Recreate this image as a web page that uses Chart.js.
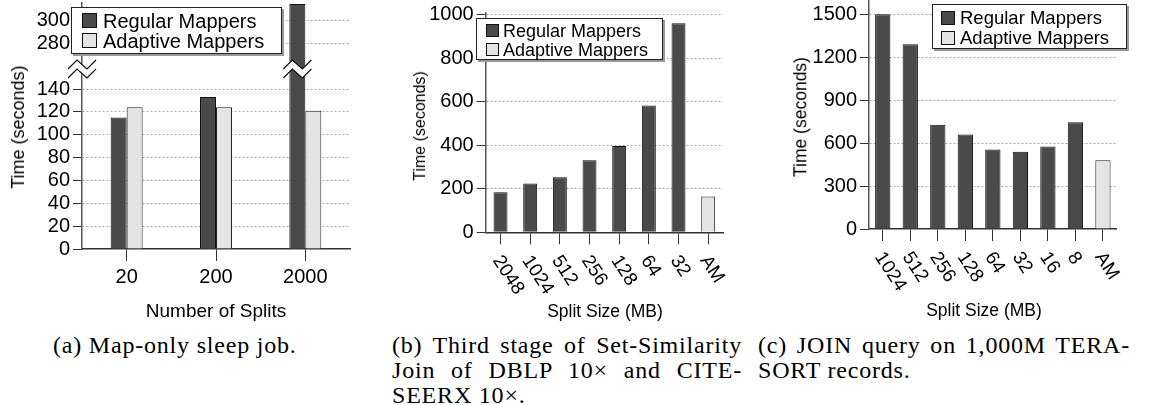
<!DOCTYPE html>
<html>
<head>
<meta charset="utf-8">
<script src="https://cdn.jsdelivr.net/npm/chart.js@4/dist/chart.umd.min.js"></script>
<style>
  body { margin: 0; background: #fff; }
  #page { position: relative; width: 1154px; height: 405px; overflow: hidden; font-family: 'Liberation Sans', Arial, sans-serif; color: #000; }
  canvas, .ytitle, .xtitle, .legend, .cap { position: absolute; }
  .ytitle { transform: translate(-50%, -50%) rotate(-90deg); white-space: nowrap; line-height: 1; }
  .xtitle { transform: translate(-50%, -50%); white-space: nowrap; line-height: 1; }
  .legend { box-sizing: border-box; border: 1px solid #222; background: #fff; box-shadow: 2px 2px 0 #999; }
  .legend .sw { position: absolute; box-sizing: border-box; border: 1px solid #111; }
  .legend .lab { position: absolute; white-space: nowrap; line-height: 1; transform: translateY(-50%); }
  .cap { font-family: 'Liberation Serif', serif; font-size: 24px; line-height: 25px; letter-spacing: 0.8px; white-space: nowrap; }
  .cap .j { text-align: justify; text-align-last: justify; }
</style>
</head>
<body>
<div id="page">
  <canvas id="aLow" width="360" height="300" style="left:0;top:0"></canvas>
  <canvas id="aHigh" width="360" height="80" style="left:0;top:0"></canvas>
  <canvas id="chartB" width="390" height="300" style="left:390px;top:0"></canvas>
  <canvas id="chartC" width="384" height="300" style="left:770px;top:0"></canvas>

  <div class="ytitle" style="left:18px;top:127px;font-size:18px">Time (seconds)</div>
  <div class="ytitle" style="left:420px;top:126px;font-size:16px">Time (seconds)</div>
  <div class="ytitle" style="left:801px;top:117px;font-size:17.5px">Time (seconds)</div>
  <div class="xtitle" style="left:216px;top:310px;font-size:19px">Number of Splits</div>
  <div class="xtitle" style="left:605px;top:312px;font-size:17.5px">Split Size (MB)</div>
  <div class="xtitle" style="left:984px;top:311px;font-size:17.5px">Split Size (MB)</div>

  <div class="cap" style="left:53px;top:333px">(a) Map-only sleep job.</div>
  <div class="cap" style="left:392px;top:333px;width:350px">
    <div class="j">(b) Third stage of Set-Similarity</div>
    <div class="j">Join of DBLP 10× and CITE-</div>
    <div>SEERX 10×.</div>
  </div>
  <div class="cap" style="left:758px;top:333px;width:372px">
    <div class="j">(c) JOIN query on 1,000M TERA-</div>
    <div>SORT records.</div>
  </div>
</div>

<script>
const seriesNames = ['Regular Mappers', 'Adaptive Mappers'];
const darkFill = '#4a4a4a';
const lightFill = '#e4e4e4';

// (a) map-only sleep job, y axis broken between 160 and 260
const splitsA = ['20', '200', '2000'];
const regularA = [115, 133, 314];
const adaptiveA = [124, 124, 121];
const yTicksLowA = [0, 20, 40, 60, 80, 100, 120, 140];
const yTicksHighA = [280, 300];

// (b) set-similarity join, third stage
const sizesB = ['2048', '1024', '512', '256', '128', '64', '32', 'AM'];
const regularB = [184, 224, 253, 331, 397, 583, 960, null];
const adaptiveB = [null, null, null, null, null, null, null, 165];
const yTicksB = [0, 200, 400, 600, 800, 1000];

// (c) join query on terasort records
const sizesC = ['1024', '512', '256', '128', '64', '32', '16', '8', 'AM'];
const regularC = [1505, 1294, 731, 663, 558, 542, 579, 748, null];
const adaptiveC = [null, null, null, null, null, null, null, null, 481];
const yTicksC = [0, 300, 600, 900, 1200, 1500];

Chart.defaults.font.family = "'Liberation Sans', Arial, sans-serif";
Chart.defaults.color = '#000';

// x labels slanted downwards to the right
const slantLabels = {
  id: 'slantLabels',
  afterDraw(chart, args, opts) {
    const xs = chart.scales.x;
    const ctx = chart.ctx;
    ctx.save();
    ctx.font = opts.size + "px 'Liberation Sans', Arial, sans-serif";
    ctx.fillStyle = '#000';
    ctx.textAlign = 'left';
    ctx.textBaseline = 'middle';
    chart.data.labels.forEach((lab, i) => {
      ctx.save();
      ctx.translate(xs.getPixelForTick(i) + opts.dx, xs.top + opts.dy);
      ctx.rotate(opts.angle * Math.PI / 180);
      ctx.fillText(lab, 0, 0);
      ctx.restore();
    });
    ctx.restore();
  }
};

// zigzag break marks on the axis and on the tall bar
function drawBreak(ctx, cx, cy) {
  const xs = [-14, -5, 5, 14];
  const ys = [0, -9, 0, -9];
  const gap = 9;
  ctx.save();
  ctx.beginPath();
  xs.forEach((x, i) => i ? ctx.lineTo(cx + x, cy + ys[i]) : ctx.moveTo(cx + x, cy + ys[i]));
  for (let i = xs.length - 1; i >= 0; i--) ctx.lineTo(cx + xs[i], cy + ys[i] + gap);
  ctx.closePath();
  ctx.fillStyle = '#fff';
  ctx.fill();
  ctx.strokeStyle = '#111';
  ctx.lineWidth = 1.2;
  [0, gap].forEach(off => {
    ctx.beginPath();
    xs.forEach((x, i) => i ? ctx.lineTo(cx + x, cy + ys[i] + off) : ctx.moveTo(cx + x, cy + ys[i] + off));
    ctx.stroke();
  });
  ctx.restore();
}

const axisBreak = {
  id: 'axisBreak',
  afterDraw(chart) {
    const area = chart.chartArea;
    const tall = chart.getDatasetMeta(0).data[2];
    drawBreak(chart.ctx, area.left, area.bottom);
    drawBreak(chart.ctx, tall.x, area.bottom);
  }
};

function barChart(id, cfg) {
  const xScale = cfg.hideX ? { display: false } : {
    afterFit: s => { s.height = cfg.xHeight; s.paddingLeft = 0; s.paddingRight = 0; },
    ticks: { display: !cfg.slant, font: { size: 20 }, padding: 4, maxRotation: 0, autoSkip: false },
    grid: { offset: false, drawOnChartArea: false, drawTicks: true, tickLength: 12, tickColor: '#333', color: '#333' },
    border: { color: '#333', width: 1.5 }
  };
  return new Chart(document.getElementById(id), {
    type: 'bar',
    data: {
      labels: cfg.labels,
      datasets: [
        { label: seriesNames[0], data: cfg.regular, backgroundColor: darkFill, borderColor: '#111', borderWidth: 1, clip: 0 },
        { label: seriesNames[1], data: cfg.adaptive, backgroundColor: lightFill, borderColor: '#222', borderWidth: 1, clip: 0 }
      ]
    },
    options: {
      responsive: false,
      animation: false,
      layout: { padding: cfg.pad },
      datasets: { bar: { categoryPercentage: cfg.cat, barPercentage: 1, grouped: cfg.grouped } },
      plugins: {
        legend: { display: false },
        tooltip: { enabled: false },
        slantLabels: cfg.slant || {}
      },
      scales: {
        x: xScale,
        y: {
          min: cfg.min,
          max: cfg.max,
          afterBuildTicks: s => { s.ticks = cfg.yTicks.map(v => ({ value: v })); },
          afterFit: s => { s.width = cfg.yWidth; s.paddingTop = 0; s.paddingBottom = 0; },
          ticks: { font: { size: 20 }, padding: 3, autoSkip: false, callback: v => String(v) },
          grid: {
            color: c => (c.tick && c.tick.value === 0) ? 'rgba(0,0,0,0)' : '#a8a8a8',
            tickColor: '#333',
            tickLength: 9,
            lineWidth: 1
          },
          border: { color: '#555', width: 1.5, dash: [2, 2] }
        }
      }
    },
    plugins: cfg.plugins || []
  });
}

barChart('aLow', {
  labels: splitsA, regular: regularA, adaptive: adaptiveA, yTicks: yTicksLowA,
  min: 0, max: 157.5, cat: 0.358, grouped: true,
  pad: { left: 0, right: 10, top: 69, bottom: 0 }, yWidth: 82, xHeight: 51
});

barChart('aHigh', {
  labels: splitsA, regular: regularA, adaptive: adaptiveA, yTicks: yTicksHighA,
  min: 257.4, max: 314.8, cat: 0.358, grouped: true, hideX: true,
  pad: { left: 0, right: 10, top: 3, bottom: 11 }, yWidth: 82,
  plugins: [axisBreak]
});

barChart('chartB', {
  labels: sizesB, regular: regularB, adaptive: adaptiveB, yTicks: yTicksB,
  min: 0, max: 1008, cat: 0.47, grouped: false,
  pad: { left: 0, right: 57, top: 12.9, bottom: 0 }, yWidth: 95.7, xHeight: 67.7,
  slant: { size: 19, angle: 57, dx: -4, dy: 25 }, plugins: [slantLabels]
});

barChart('chartC', {
  labels: sizesC, regular: regularC, adaptive: adaptiveC, yTicks: yTicksC,
  min: 0, max: 1605, cat: 0.555, grouped: false,
  pad: { left: 0, right: 37.3, top: 0, bottom: 0 }, yWidth: 99, xHeight: 71,
  slant: { size: 19, angle: 57, dx: -4, dy: 25 }, plugins: [slantLabels]
});

// legends drawn as boxes over the plots
const page = document.getElementById('page');
function legend(box) {
  const el = document.createElement('div');
  el.className = 'legend';
  Object.assign(el.style, { left: box.x + 'px', top: box.y + 'px', width: box.w + 'px', height: box.h + 'px', fontSize: box.font + 'px' });
  seriesNames.forEach((name, i) => {
    const sw = document.createElement('div');
    sw.className = 'sw';
    Object.assign(sw.style, { left: box.sx + 'px', top: (box.rows[i] - box.s / 2) + 'px', width: box.s + 'px', height: box.s + 'px', background: i ? lightFill : darkFill });
    const lab = document.createElement('div');
    lab.className = 'lab';
    lab.textContent = name;
    Object.assign(lab.style, { left: box.tx + 'px', top: box.rows[i] + 'px' });
    el.append(sw, lab);
  });
  page.appendChild(el);
}
legend({ x: 71, y: 7, w: 211, h: 47, font: 20, s: 15, sx: 10, tx: 31, rows: [12.5, 32.5] });
legend({ x: 476, y: 18, w: 187, h: 42, font: 18, s: 13, sx: 9, tx: 26, rows: [11.5, 30.5] });
legend({ x: 932, y: 4, w: 195, h: 45, font: 18.5, s: 14, sx: 8, tx: 27, rows: [13, 32.5] });
</script>
</body>
</html>
